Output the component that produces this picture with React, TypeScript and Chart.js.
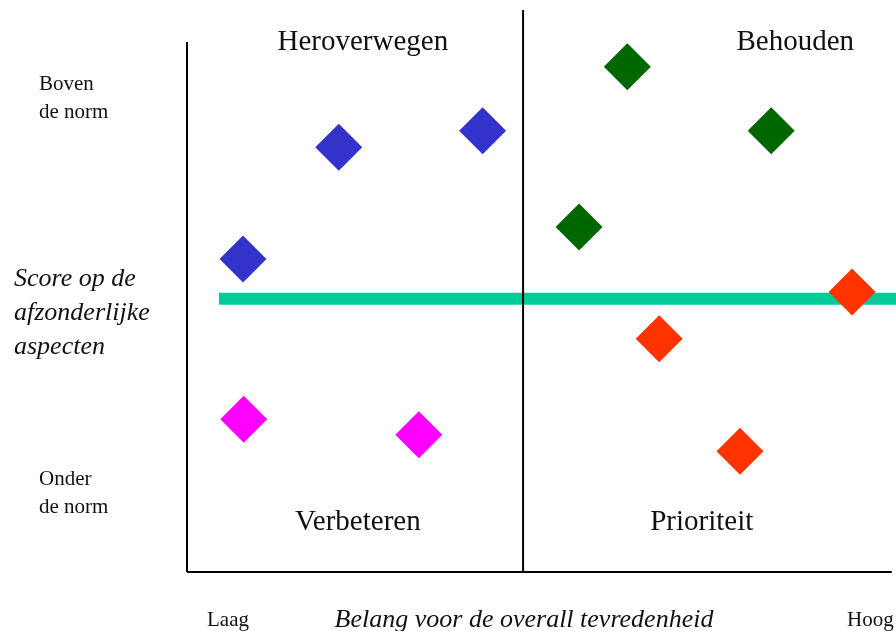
import React, { useEffect, useRef } from "react";
import { Chart, registerables } from "chart.js";

Chart.register(...registerables);

// Data (x: importance 0-100, y: score 0-100)
const herovergenPoints = [
  { x: 7.9, y: 55.7 },
  { x: 21.4, y: 75.6 },
  { x: 41.7, y: 78.5 },
];
const behoudenPoints = [
  { x: 62.1, y: 89.9 },
  { x: 82.4, y: 78.5 },
  { x: 55.3, y: 61.4 },
];
const prioriteitPoints = [
  { x: 93.8, y: 49.8 },
  { x: 66.6, y: 41.5 },
  { x: 78.0, y: 21.5 },
];
const verbeterenPoints = [
  { x: 8.0, y: 27.2 },
  { x: 32.7, y: 24.4 },
];

const normLevel = 48.6;
const normLine = [
  { x: 4.5, y: normLevel },
  { x: 100, y: normLevel },
];
const dividerX = 47.4;
const dividerLine = [
  { x: dividerX, y: 0 },
  { x: dividerX, y: 100 },
];
const yAxisLine = [
  { x: 0, y: 0 },
  { x: 0, y: 94.3 },
];
const xAxisLine = [
  { x: 0, y: 0 },
  { x: 99.4, y: 0 },
];

const quadrantLabels = ["Heroverwegen", "Behouden", "Verbeteren", "Prioriteit"];
const quadrantLabelX = [24.8, 85.8, 24.1, 72.6];
const quadrantLabelY = [92.9, 92.9, 7.5, 7.5];

const yTopLabel = ["Boven", "de norm"];
const yBottomLabel = ["Onder", "de norm"];
const yTitle = ["Score op de", "afzonderlijke", "aspecten"];
const xTitle = "Belang voor de overall tevredenheid";
const xLowLabel = "Laag";
const xHighLabel = "Hoog";

const textPlugin = {
  id: "quadrantText",
  afterDraw(chart: any) {
    const ctx = chart.ctx;
    const xs = chart.scales.x;
    const ys = chart.scales.y;
    ctx.save();
    ctx.fillStyle = "#111111";
    ctx.textBaseline = "alphabetic";

    ctx.font = '29px "Liberation Serif"';
    ctx.textAlign = "center";
    quadrantLabels.forEach((t, i) => {
      ctx.fillText(t, xs.getPixelForValue(quadrantLabelX[i]), ys.getPixelForValue(quadrantLabelY[i]));
    });

    ctx.font = '21px "Liberation Serif"';
    ctx.textAlign = "left";
    yTopLabel.forEach((t, i) => ctx.fillText(t, 39, 90 + i * 28));
    yBottomLabel.forEach((t, i) => ctx.fillText(t, 39, 485 + i * 28));
    ctx.fillText(xLowLabel, 207, 626);
    ctx.fillText(xHighLabel, 847, 626);

    ctx.font = 'italic 26px "Liberation Serif"';
    yTitle.forEach((t, i) => ctx.fillText(t, 14, 286 + i * 34));
    ctx.textAlign = "center";
    ctx.fillText(xTitle, 524, 627);
    ctx.restore();
  },
};

const diamond = (data: any[], color: string) => ({
  type: "scatter" as const,
  data,
  pointStyle: "rectRot",
  pointRadius: 23.5,
  pointHoverRadius: 23.5,
  pointBackgroundColor: color,
  pointBorderColor: color,
  pointBorderWidth: 0,
  showLine: false,
  order: 0,
  clip: false as any,
});

const lineDs = (data: any[], color: string, width: number, order: number) => ({
  type: "line" as const,
  data,
  borderColor: color,
  borderWidth: width,
  borderCapStyle: "butt",
  pointRadius: 0,
  showLine: true,
  fill: false,
  order,
  clip: false as any,
});

export default function App() {
  const ref = useRef<HTMLCanvasElement>(null);
  useEffect(() => {
    document.body.style.margin = "0";
    if (!ref.current) return;
    const chart = new Chart(ref.current, {
      type: "scatter",
      data: {
        datasets: [
          diamond(herovergenPoints, "#3333CC"),
          diamond(behoudenPoints, "#006600"),
          diamond(prioriteitPoints, "#FF3300"),
          diamond(verbeterenPoints, "#FF00FF"),
          lineDs(dividerLine, "#000000", 2, 1),
          lineDs(yAxisLine, "#000000", 2, 2),
          lineDs(xAxisLine, "#000000", 2, 2),
          lineDs(normLine, "#00CC99", 12, 3),
        ] as any,
      },
      options: {
        responsive: false,
        maintainAspectRatio: false,
        animation: false,
        events: [],
        layout: { autoPadding: false, padding: { left: 187, right: 0, top: 10, bottom: 59 } },
        plugins: { legend: { display: false }, tooltip: { enabled: false } },
        scales: {
          x: { type: "linear", display: false, min: 0, max: 100 },
          y: { type: "linear", display: false, min: 0, max: 100 },
        },
      } as any,
      plugins: [textPlugin],
    });
    return () => chart.destroy();
  }, []);
  return (
    <div style={{ position: "absolute", left: 0, top: 0, width: 896, height: 631, background: "#fff" }}>
      <canvas ref={ref} width={896} height={631} style={{ display: "block" }} />
    </div>
  );
}
